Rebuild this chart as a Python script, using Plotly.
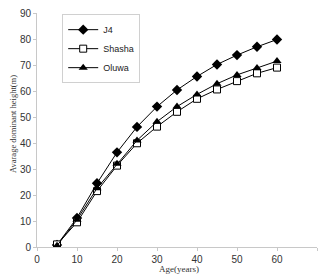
import plotly.graph_objects as go

ages = [5, 10, 15, 20, 25, 30, 35, 40, 45, 50, 55, 60]
j4 = [0.8, 11.2, 24.5, 36.4, 46.2, 54.0, 60.4, 65.6, 70.2, 73.8, 77.0, 79.8]
shasha = [1.0, 9.5, 21.5, 31.3, 39.9, 46.3, 52.0, 57.0, 60.6, 63.8, 66.8, 69.0]
oluwa = [0.5, 10.5, 22.6, 32.0, 41.0, 48.2, 54.0, 58.7, 62.8, 66.2, 68.8, 71.5]

x_title = "Age(years)"
y_title = "Avarage dominant height(m)"

fig = go.Figure()
fig.add_trace(go.Scatter(x=ages, y=j4, name="J4", mode="lines+markers",
                         line=dict(color="black", width=1),
                         marker=dict(symbol="diamond", size=8, color="black")))
fig.add_trace(go.Scatter(x=ages, y=shasha, name="Shasha", mode="lines+markers",
                         line=dict(color="black", width=1),
                         marker=dict(symbol="square", size=7, color="white",
                                     line=dict(color="black", width=1))))
fig.add_trace(go.Scatter(x=ages, y=oluwa, name="Oluwa", mode="lines+markers",
                         line=dict(color="black", width=1),
                         marker=dict(symbol="triangle-up", size=8, color="black")))

axis_common = dict(showgrid=False, zeroline=False, showline=True, linecolor="#c8c8c8",
                   linewidth=1, ticks="outside", tickcolor="#c8c8c8", ticklen=3,
                   automargin=False,
                   tickfont=dict(family="Liberation Sans, Arial", size=10, color="#333"))

title_font = dict(family="Liberation Serif, Times New Roman", size=9, color="#333")

fig.update_layout(
    width=322, height=275,
    margin=dict(l=37, r=5, t=13, b=28),
    paper_bgcolor="white", plot_bgcolor="white",
    xaxis=dict(range=[0, 70], dtick=10, ticklabelstandoff=0, **axis_common),
    yaxis=dict(range=[0, 90], dtick=10, **axis_common),
    legend=dict(x=0.09, y=0.995, xanchor="left", yanchor="top",
                bordercolor="#d0d0d0", borderwidth=1, bgcolor="white",
                font=dict(family="Liberation Sans, Arial", size=9, color="#222"),
                tracegroupgap=0, itemwidth=30),
    showlegend=True,
    annotations=[
        dict(text=x_title, xref="paper", yref="paper", x=(179 - 37) / 280, y=-(274.5 - 247) / 234,
             xanchor="center", yanchor="bottom", showarrow=False, borderpad=0, font=title_font),
        dict(text=y_title, xref="paper", yref="paper", x=-(37 - 13) / 280, y=(247 - 124) / 234,
             xanchor="center", yanchor="middle", showarrow=False, textangle=-90,
             font=dict(family="Liberation Serif, Times New Roman", size=8.5, color="#333")),
    ],
)

fig.write_html("out.html")
